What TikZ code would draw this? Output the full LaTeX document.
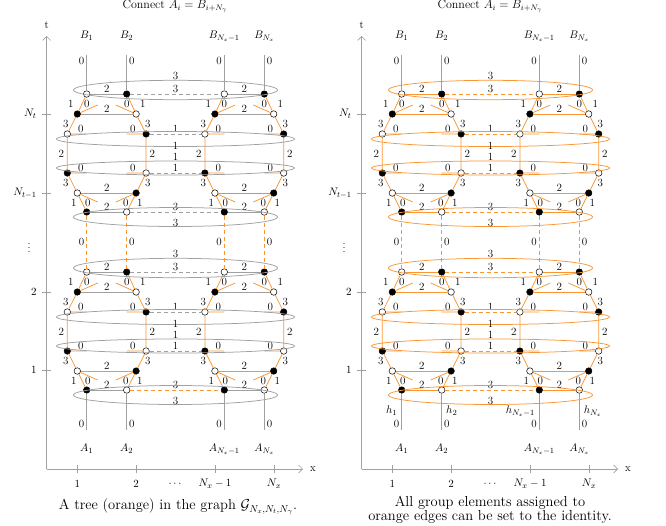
\documentclass[tikz,border=0pt]{standalone}
\usetikzlibrary{arrows.meta}
\definecolor{org}{RGB}{250,150,50}
\definecolor{gry}{RGB}{160,160,160}
\tikzset{
 lbl/.style={font=\fontsize{11}{13}\selectfont,inner sep=0.3pt},
 wv/.style={circle,draw=black,fill=white,minimum size=6.5pt,inner sep=0pt,line width=0.5pt},
 bv/.style={circle,draw=black,fill=black,minimum size=6.5pt,inner sep=0pt,line width=0.5pt},
 oe/.style={draw=org,line width=0.75pt},
 ge/.style={draw=gry,line width=0.75pt},
 dsh/.style={dash pattern=on 4pt off 3pt},
 axis/.style={draw=gry,line width=0.6pt},
}
\newcommand\myblock[4]{% #1 prefix, #2 xo, #3 ty, #4 block suffix
\foreach \k in {1,2}{%
 \pgfmathsetmacro\c{#2+86.7+(\k-1)*137.6}%
 \pgfmathsetmacro\ra{#3}\pgfmathsetmacro\rb{#3+20}\pgfmathsetmacro\rc{#3+40}%
 \pgfmathsetmacro\rd{#3+79}\pgfmathsetmacro\re{#3+99}\pgfmathsetmacro\rf{#3+118}%
 \node[wv] (#1-\k-a0) at (\c,\ra) {};
 \node[bv] (#1-\k-a1) at ({\c-9.4},\rb) {};
 \node[wv] (#1-\k-a2) at ({\c-19.4},\rc) {};
 \node[bv] (#1-\k-a3) at ({\c-19.4},\rd) {};
 \node[wv] (#1-\k-a4) at ({\c-9.4},\re) {};
 \node[bv] (#1-\k-a5) at (\c,\rf) {};
 \node[bv] (#1-\k-b0) at ({\c+40},\ra) {};
 \node[wv] (#1-\k-b1) at ({\c+49.4},\rb) {};
 \node[bv] (#1-\k-b2) at ({\c+59.4},\rc) {};
 \node[wv] (#1-\k-b3) at ({\c+59.4},\rd) {};
 \node[bv] (#1-\k-b4) at ({\c+49.4},\re) {};
 \node[wv] (#1-\k-b5) at ({\c+40},\rf) {};
 \coordinate (#1-\k-s1a) at ({\c+11},{\rb-9});
 \coordinate (#1-\k-s2a) at (\c,\rc);
 \coordinate (#1-\k-s3a) at (\c,\rd);
 \coordinate (#1-\k-s4a) at ({\c+11},{\re+9});
 \coordinate (#1-\k-s1b) at ({\c+29},{\rb-9});
 \coordinate (#1-\k-s2b) at ({\c+40},\rc);
 \coordinate (#1-\k-s3b) at ({\c+40},\rd);
 \coordinate (#1-\k-s4b) at ({\c+29},{\re+9});
 \draw[oe] (#1-\k-a0) -- (#1-\k-a1) -- (#1-\k-a2) -- (#1-\k-a3) -- (#1-\k-a4) -- (#1-\k-a5);
 \draw[oe] (#1-\k-b0) -- (#1-\k-b1) -- (#1-\k-b2) -- (#1-\k-b3) -- (#1-\k-b4) -- (#1-\k-b5);
 \draw[oe] (#1-\k-a1) -- (#1-\k-s1a) (#1-\k-a2) -- (#1-\k-s2a) (#1-\k-a3) -- (#1-\k-s3a) (#1-\k-a4) -- (#1-\k-s4a);
 \draw[oe] (#1-\k-b1) -- (#1-\k-s1b) (#1-\k-b2) -- (#1-\k-s2b) (#1-\k-b3) -- (#1-\k-s3b) (#1-\k-b4) -- (#1-\k-s4b);
 \draw[hst] (#1-\k-a0) -- (#1-\k-b0);
 \draw[hst] (#1-\k-a1) -- (#1-\k-b1);
 \draw[r4#4] (#1-\k-a4) -- (#1-\k-b4);
 \draw[hst] (#1-\k-a5) -- (#1-\k-b5);
 \node[lbl] at ({\c+20},{\ra-5.5}) {2};
 \node[lbl] at ({\c+20},{\rb-5.5}) {2};
 \node[lbl] at ({\c+20},{\re-5.5}) {2};
 \node[lbl] at ({\c+20},{\rf-5.5}) {2};
 \node[lbl] at ({\c-16},{\ra+10}) {1};
 \node[lbl] at ({\c},{\ra+10}) {0};
 \node[lbl] at ({\c-21},{\rb+10}) {3};
 \node[lbl] at ({\c-25.5},{\rc+19.5}) {2};
 \node[lbl] at ({\c-6},{\rc-5.5}) {0};
 \node[lbl] at ({\c-6},{\rd-5.5}) {0};
 \node[lbl] at ({\c-21},{\rd+10}) {3};
 \node[lbl] at ({\c-13},{\re+10}) {1};
 \node[lbl] at ({\c+1},{\re+10}) {0};
 \node[lbl] at ({\c+56},{\ra+10}) {1};
 \node[lbl] at ({\c+40},{\ra+10}) {0};
 \node[lbl] at ({\c+61},{\rb+10}) {3};
 \node[lbl] at ({\c+65.5},{\rc+19.5}) {2};
 \node[lbl] at ({\c+46},{\rc-5.5}) {0};
 \node[lbl] at ({\c+46},{\rd-5.5}) {0};
 \node[lbl] at ({\c+61},{\rd+10}) {3};
 \node[lbl] at ({\c+53},{\re+10}) {1};
 \node[lbl] at ({\c+39},{\re+10}) {0};
}
\draw[dst] (#1-1-b0) -- node[lbl,above=1pt] {3} (#1-2-a0);
\draw[dst] (#1-1-b2) -- node[lbl,above=1pt] {1} (#1-2-a2);
\draw[dst] (#1-1-b3) -- node[lbl,above=1pt] {1} (#1-2-a3);
\draw[d5#4] (#1-1-b5) -- node[lbl,above=1pt] {3} (#1-2-a5);
\draw[est] ({#2+175.5},{#3-4}) ellipse [x radius=102pt, y radius=9.7pt];
\node[lbl] at ({#2+175.5},{#3-18.5}) {3};
\draw[est] ({#2+175.5},{#3+45}) ellipse [x radius=119pt, y radius=7.5pt];
\node[lbl] at ({#2+175.5},{#3+51.5}) {1};
\draw[est] ({#2+175.5},{#3+74}) ellipse [x radius=119pt, y radius=7pt];
\node[lbl] at ({#2+175.5},{#3+62.5}) {1};
\draw[est] ({#2+175.5},{#3+123}) ellipse [x radius=102pt, y radius=9.5pt];
\node[lbl] at ({#2+175.5},{#3+128.5}) {3};
}
\newcommand\mypanel[2]{% #1 prefix, #2 xo
 \myblock{#1T}{#2}{94}{T}
 \myblock{#1B}{#2}{272}{B}
 \foreach \k in {1,2}{%
  \foreach \s/\dx/\an/\lx in {a/0/east/-2,b/40/west/2}{%
   \pgfmathsetmacro\xx{#2+86.7+(\k-1)*137.6+\dx}%
   \coordinate (#1-top-\k\s) at (\xx,55);
   \draw[ge] (#1-top-\k\s) -- (#1T-\k-\s0);
   \node[lbl,anchor=\an] at ({\xx+\lx},61) {0};
   \draw[oe,dsh] (#1T-\k-\s5) -- (#1B-\k-\s0);
   \node[lbl,anchor=\an] at ({\xx+\lx},242) {0};
   \coordinate (#1-bot-\k\s) at (\xx,430);
   \draw[ge] (#1B-\k-\s5) -- (#1-bot-\k\s);
   \node[lbl,anchor=\an] at ({\xx+\lx},424) {0};
  }}
 \foreach \xx/\nm in {86.7/1,126.7/2,224.3/{N_x-1},264.3/{N_x}}{%
  \node[lbl] at ({#2+\xx},36) {$B_{\nm}$};
  \node[lbl] at ({#2+\xx},449) {$A_{\nm}$};
 }
 \coordinate (#1-O) at ({#2+46.7},469);
 \coordinate (#1-tend) at ({#2+46.7},36);
 \coordinate (#1-xend) at ({#2+303},469);
 \draw[axis,-{Straight Barb[length=4pt,width=8pt]}] (#1-O) -- (#1-tend);
 \draw[axis,-{Straight Barb[length=4pt,width=8pt]}] (#1-O) -- (#1-xend);
 \node[lbl] at ({#2+46.7},25) {t};
 \node[lbl] at ({#2+313},469) {x};
 \foreach \xx/\tl in {77.3/1,136/2,215/{N_x-1},274/{N_x}}{%
  \draw[axis] ({#2+\xx},465) -- ({#2+\xx},473);
  \node[lbl] at ({#2+\xx},484) {$\tl$};
 }
 \node[lbl] at ({#2+175},484) {$\cdots$};
 \foreach \yy/\tl in {114/{N_t},193/{N_{t-1}},292/2,370/1}{%
  \draw[axis] ({#2+42},\yy) -- ({#2+51},\yy);
  \node[lbl,anchor=east] at ({#2+37},\yy) {$\tl$};
 }
 \node[font=\fontsize{11}{13}\selectfont,inner sep=0pt] at ({#2+29},245) {$\vdots$};
 \node[font=\fontsize{12}{14}\selectfont] at ({#2+175},6) {Connect $A_i=B_{i+N_\gamma}$};
}
\begin{document}
\begin{tikzpicture}[x=1pt,y=-1pt]
\useasboundingbox (0,0) rectangle (666,525);
\begin{scope}[hst/.style={ge},dst/.style={ge,dsh},est/.style={ge},
  r4T/.style={ge},d5T/.style={ge,dsh},r4B/.style={oe},d5B/.style={oe,dsh}]
 \mypanel{L}{0}
\end{scope}
\begin{scope}[hst/.style={oe},dst/.style={oe,dsh},est/.style={oe},
  r4T/.style={oe},d5T/.style={oe,dsh},r4B/.style={oe},d5B/.style={oe,dsh}]
 \mypanel{R}{315}
\end{scope}
\foreach \xx/\nm/\an/\dd in {86.7/1/east/-4,126.7/2/west/4,224.3/{N_x-1}/east/-4,264.3/{N_x}/west/4}{%
 \node[lbl,anchor=\an] at ({315+\xx+\dd},411) {$h_{\nm}$};
}
\node[font=\fontsize{14.5}{17}\selectfont] (capL) at (178,507) {A tree (orange) in the graph $\mathcal{G}_{N_x,N_t,N_\gamma}$.};
\node[align=center,inner sep=0pt,font=\fontsize{14.5}{14}\selectfont] (capR) at (490,510) {All group elements assigned to\\orange edges can be set to the identity.};
\end{tikzpicture}
\end{document}
